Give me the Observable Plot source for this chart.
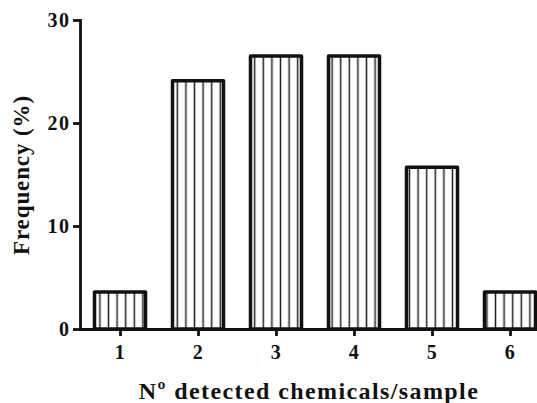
<!DOCTYPE html>
<html>
<head>
<meta charset="utf-8">
<script src="https://cdn.jsdelivr.net/npm/d3@7"></script>
<script src="https://cdn.jsdelivr.net/npm/@observablehq/plot@0.6"></script>
<style>
  html, body { margin: 0; padding: 0; background: #fff; }
  svg text { font-family: "Liberation Serif", "Times New Roman", serif; font-weight: bold; }
</style>
</head>
<body>
<div id="chart"></div>
<script>
const categories = ["1", "2", "3", "4", "5", "6"];
const frequencies = [3.6, 24.1, 26.5, 26.5, 15.7, 3.6];
const yTicks = [0, 10, 20, 30];

const data = categories.map((c, i) => ({n: c, f: frequencies[i]}));

const chart = Plot.plot({
  width: 537,
  height: 403,
  marginLeft: 80,
  marginRight: 0,
  marginTop: 20,
  marginBottom: 74,
  style: {fontFamily: "Liberation Serif, serif", fontSize: "20px", fontWeight: "bold", color: "#111", background: "#fff"},
  x: {domain: categories, range: [94.5, 535.5], paddingInner: 0.346, paddingOuter: 0, round: false, label: null},
  y: {domain: [0, 30], label: null},
  marks: [
    Plot.barY(data, {x: "n", y: "f", fill: "url(#vstripes)", stroke: "#111", strokeWidth: 3.5, strokeLinejoin: "round"}),
    Plot.frame({anchor: "left", stroke: "#111", strokeWidth: 2.8}),
    Plot.ruleY([0], {stroke: "#111", strokeWidth: 2.8}),
    Plot.axisY(yTicks, {ticks: yTicks, tickSize: 7, tickPadding: 3, strokeWidth: 2.8, fontSize: 20, label: "Frequency (%)", labelAnchor: "center", labelArrow: false, labelOffset: 68}),
    Plot.axisX({tickSize: 7, tickPadding: 8, strokeWidth: 2.8, fontSize: 20, label: "Nº detected chemicals/sample", labelAnchor: "center", labelArrow: false, labelOffset: 69})
  ]
});

// stripe pattern definition
const svg = d3.select(chart);
const defs = svg.insert("defs", ":first-child");
const pat = defs.append("pattern")
  .attr("id", "vstripes")
  .attr("patternUnits", "userSpaceOnUse")
  .attr("width", 8.6).attr("height", 10)
  .attr("x", 1);
pat.append("rect").attr("width", 8.6).attr("height", 10).attr("fill", "#fff");
pat.append("line").attr("x1", 4.3).attr("x2", 4.3).attr("y1", 0).attr("y2", 10)
  .attr("stroke", "#222").attr("stroke-width", 1.5);

svg.selectAll("[aria-label='x-axis tick label'] text, [aria-label='y-axis tick label'] text")
  .style("letter-spacing", "1.5px");
svg.selectAll("[aria-label='y-axis label'] text")
  .style("font-size", "23px").style("letter-spacing", "0.9px").style("fill", "#111");
svg.selectAll("[aria-label='x-axis label'] text")
  .style("font-size", "24px").style("letter-spacing", "1.4px").style("fill", "#111");

document.getElementById("chart").appendChild(chart);
</script>
</body>
</html>
